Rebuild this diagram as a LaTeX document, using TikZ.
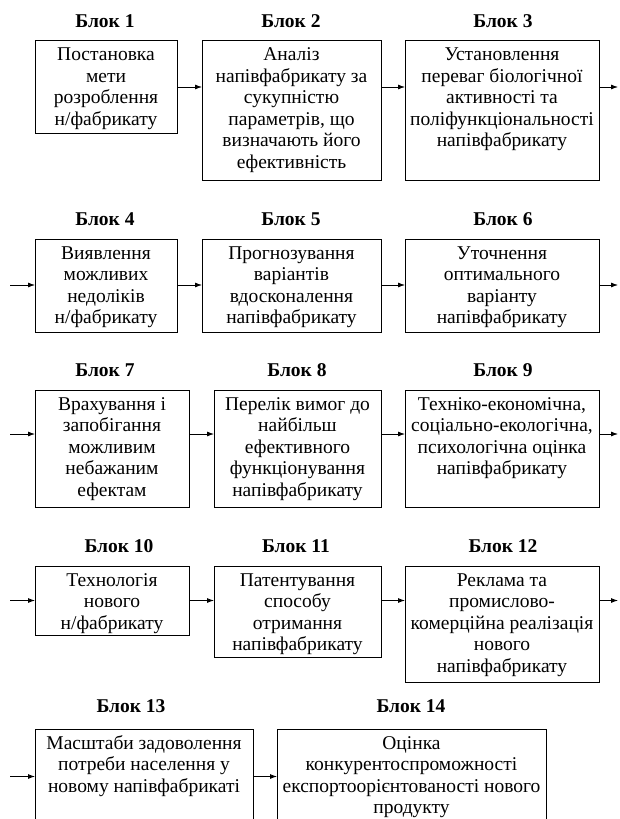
\documentclass[tikz,border=0pt]{standalone}
\usepackage{fontspec}
\setmainfont{Liberation Serif}
\usetikzlibrary{arrows.meta}
\newcommand\bxt[3]{\parbox[c][#2pt][t]{#1pt}{\vspace*{5pt}\makebox[#1pt]{\begin{tabular}[t]{@{}c@{}}#3\end{tabular}}}}
\tikzset{
  blk/.style={draw, line width=0.8pt, inner sep=0pt, outer sep=0pt, anchor=north west,
    font=\fontsize{19.5}{21.5}\selectfont},
  ttl/.style={inner sep=0pt, font=\fontsize{19.5}{21.5}\selectfont\bfseries},
  arr/.style={line width=0.8pt, -{Latex[length=7pt,width=5pt]}}
}
\begin{document}
\begin{tikzpicture}[x=1pt,y=-1pt]
\useasboundingbox (0,0) rectangle (619,819);
\clip (0,0) rectangle (619,819);
\fill[white] (0,0) rectangle (619,819);

% titles
\node[ttl] (t1) at (105,21) {Блок 1};
\node[ttl] (t2) at (291,21) {Блок 2};
\node[ttl] (t3) at (503,21) {Блок 3};
\node[ttl] (t4) at (105,219) {Блок 4};
\node[ttl] (t5) at (291,219) {Блок 5};
\node[ttl] (t6) at (503,219) {Блок 6};
\node[ttl] (t7) at (105,370) {Блок 7};
\node[ttl] (t8) at (297,370) {Блок 8};
\node[ttl] (t9) at (503,370) {Блок 9};
\node[ttl] (t10) at (119,546) {Блок 10};
\node[ttl] (t11) at (296,546) {Блок 11};
\node[ttl] (t12) at (503,546) {Блок 12};
\node[ttl] (t13) at (131,706) {Блок 13};
\node[ttl] (t14) at (411,706) {Блок 14};

% blocks
\node[blk] (b1) at (35,40.5) {\bxt{142}{93}{Постановка\\мети\\розроблення\\н/фабрикату}};
\node[blk] (b2) at (202,40.5) {\bxt{179}{140}{Аналіз\\напівфабрикату за\\сукупністю\\параметрів, що\\визначають його\\ефективність}};
\node[blk] (b3) at (405,40.5) {\bxt{194}{140}{Установлення\\переваг біологічної\\активності та\\поліфункціональності\\напівфабрикату}};
\node[blk] (b4) at (35,239) {\bxt{142}{93.5}{Виявлення\\можливих\\недоліків\\н/фабрикату}};
\node[blk] (b5) at (202,239) {\bxt{179}{93.5}{Прогнозування\\варіантів\\вдосконалення\\напівфабрикату}};
\node[blk] (b6) at (405,239) {\bxt{194}{93.5}{Уточнення\\оптимального\\варіанту\\напівфабрикату}};
\node[blk] (b7) at (35,390) {\bxt{154}{117}{Врахування і\\запобігання\\можливим\\небажаним\\ефектам}};
\node[blk] (b8) at (214,390) {\bxt{167}{117}{Перелік вимог до\\найбільш\\ефективного\\функціонування\\напівфабрикату}};
\node[blk] (b9) at (405,390) {\bxt{194}{117}{Техніко-економічна,\\соціально-екологічна,\\психологічна оцінка\\напівфабрикату}};
\node[blk] (b10) at (35,566) {\bxt{154}{69.5}{Технологія\\нового\\н/фабрикату}};
\node[blk] (b11) at (214,566) {\bxt{167}{91}{Патентування\\способу\\отримання\\напівфабрикату}};
\node[blk] (b12) at (405,566) {\bxt{194}{116}{Реклама та\\промислово-\\комерційна реалізація\\нового\\напівфабрикату}};
\node[blk] (b13) at (35,729) {\bxt{218}{110}{Масштаби задоволення\\потреби населення у\\новому напівфабрикаті}};
\node[blk] (b14) at (277,729) {\bxt{269}{110}{Оцінка\\конкурентоспроможності\\експортоорієнтованості нового\\продукту}};

% row levels and free ends
\coordinate (r1) at (0,87);
\coordinate (o1) at (618,87);
\coordinate (i2) at (10,285);
\coordinate (o2) at (618,285);
\coordinate (i3) at (10,434);
\coordinate (o3) at (618,434);
\coordinate (i4) at (10,600.5);
\coordinate (o4) at (618,600.5);
\coordinate (i5) at (10,776.5);

% connectors
\draw[arr] (b1.east |- r1) -- (b2.west |- r1);
\draw[arr] (b2.east |- r1) -- (b3.west |- r1);
\draw[arr] (b3.east |- r1) -- (o1);

\draw[arr] (i2) -- (b4.west |- i2);
\draw[arr] (b4.east |- i2) -- (b5.west |- i2);
\draw[arr] (b5.east |- i2) -- (b6.west |- i2);
\draw[arr] (b6.east |- i2) -- (o2);

\draw[arr] (i3) -- (b7.west |- i3);
\draw[arr] (b7.east |- i3) -- (b8.west |- i3);
\draw[arr] (b8.east |- i3) -- (b9.west |- i3);
\draw[arr] (b9.east |- i3) -- (o3);

\draw[arr] (i4) -- (b10.west |- i4);
\draw[arr] (b10.east |- i4) -- (b11.west |- i4);
\draw[arr] (b11.east |- i4) -- (b12.west |- i4);
\draw[arr] (b12.east |- i4) -- (o4);

\draw[arr] (i5) -- (b13.west |- i5);
\draw[arr] (b13.east |- i5) -- (b14.west |- i5);
\end{tikzpicture}
\end{document}
